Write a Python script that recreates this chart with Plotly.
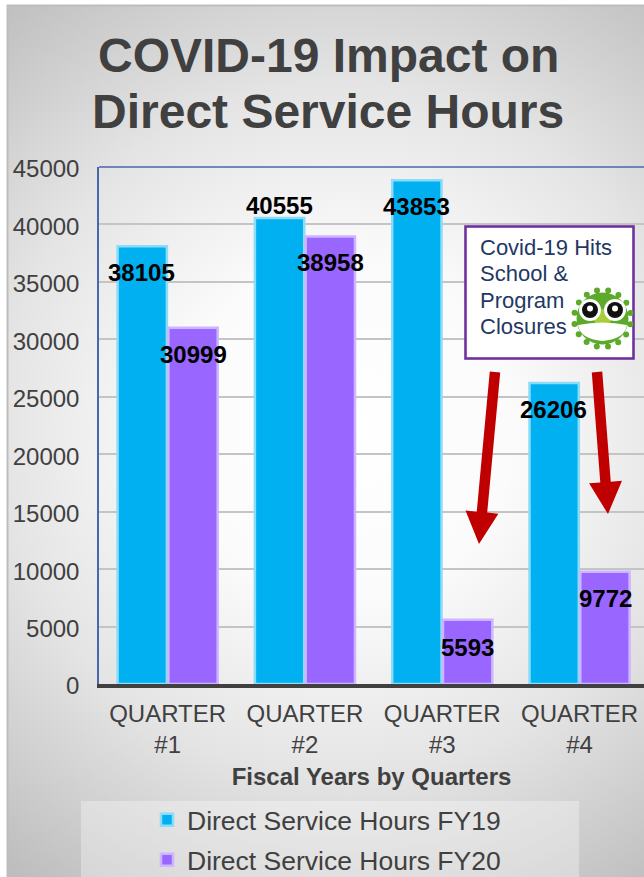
import base64, math
import plotly.graph_objects as go

categories = ["QUARTER<br>#1", "QUARTER<br>#2", "QUARTER<br>#3", "QUARTER<br>#4"]
fy19 = [38105, 40555, 43853, 26206]
fy20 = [30999, 38958, 5593, 9772]
fy19_label_y = [35800, 41690, 41520, 23850]
fy20_label_y = [28640, 36730, 3220, 7400]
y_ticks = [0, 5000, 10000, 15000, 20000, 25000, 30000, 35000, 40000, 45000]
callout_lines = ["Covid-19 Hits", "School &", "Program", "Closures"]

W, H = 644, 877
L, T, B = 99, 167, 684
PW, PH = W - L, B - T
STEP = 137.3
def px(x): return (x - L) / PW
def py(y): return (B - y) / PH
def uri(svg): return "data:image/svg+xml;base64," + base64.b64encode(svg.encode()).decode()

bg_svg = f'''<svg xmlns="http://www.w3.org/2000/svg" width="{W}" height="{H}" viewBox="0 0 {W} {H}">
<defs><radialGradient id="g" gradientUnits="userSpaceOnUse" cx="345" cy="430" r="560">
<stop offset="0" stop-color="#ffffff"/><stop offset="0.3" stop-color="#fbfbfb"/>
<stop offset="0.62" stop-color="#e4e4e4"/><stop offset="1" stop-color="#bcbcbc"/></radialGradient></defs>
<rect width="{W}" height="{H}" fill="#ffffff"/>
<rect x="7" y="5" width="{W}" height="{H}" fill="url(#g)"/>
<path d="M7.5 {H} V5.5 H{W}" fill="none" stroke="#bdbdbd" stroke-width="2"/>
<rect x="81" y="801" width="498" height="76" fill="#ffffff" fill-opacity="0.32"/>
</svg>'''

spikes = ""
for k in range(16):
    a = 2 * math.pi * k / 16 + 0.2
    x1, y1 = 31.5 + 22 * math.cos(a), 31.5 + 22 * math.sin(a)
    x2, y2 = 31.5 + 28.5 * math.cos(a), 31.5 + 28.5 * math.sin(a)
    spikes += (f'<line x1="{x1:.1f}" y1="{y1:.1f}" x2="{x2:.1f}" y2="{y2:.1f}" stroke="#5DA92A" stroke-width="2.4"/>'
               f'<circle cx="{x2:.1f}" cy="{y2:.1f}" r="3" fill="#5DA92A"/>')
box_svg = f'''<svg xmlns="http://www.w3.org/2000/svg" width="171" height="135" viewBox="0 0 171 135">
<rect x="1.5" y="1.5" width="168" height="132" fill="#ffffff" stroke="#7030A0" stroke-width="2.6"/>
<g transform="translate(107,62)">{spikes}
<circle cx="31.5" cy="31.5" r="26" fill="#5DA92A"/>
<circle cx="31.5" cy="31" r="9" fill="#A6CE39"/>
<circle cx="19" cy="23" r="11" fill="#ffffff"/><circle cx="44" cy="23" r="11" fill="#ffffff"/>
<circle cx="19" cy="23" r="8" fill="#111111"/><circle cx="44" cy="23" r="8" fill="#111111"/>
<circle cx="19" cy="21.5" r="3" fill="#ffffff"/><circle cx="44" cy="21.5" r="3" fill="#ffffff"/>
<path d="M7 38 Q31.5 33 56 38 Q54 52 31.5 54 Q9 52 7 38Z" fill="#ffffff"/>
</g></svg>'''

fig = go.Figure()
fig.add_bar(name="Direct Service Hours FY19", x=categories, y=fy19, legendgroup="a",
            marker=dict(color="#00B0F0", line=dict(color="#8ADCF8", width=2.5)))
fig.add_bar(name="Direct Service Hours FY20", x=categories, y=fy20, legendgroup="b",
            marker=dict(color="#9966FF", line=dict(color="#CDB5FF", width=2.5)))

ann = []
OFF = 0.187
for i in range(4):
    for val, ly, d in ((fy19[i], fy19_label_y[i], -OFF), (fy20[i], fy20_label_y[i], OFF)):
        ann.append(dict(x=i + d, y=ly, xref="x", yref="y", text=f"<b>{val}</b>", showarrow=False,
                        xanchor="center", yanchor="middle", font=dict(size=24, color="#000000")))
for text, yp in (("COVID-19 Impact on", 55), ("Direct Service Hours", 111)):
    ann.append(dict(x=px(328), y=py(yp), xref="paper", yref="paper", text=f"<b>{text}</b>", showarrow=False,
                    xanchor="center", yanchor="middle", font=dict(size=48, color="#404040")))
for text, yp in zip(callout_lines, (247, 273, 300, 326)):
    ann.append(dict(x=px(478), y=py(yp), xref="paper", yref="paper", showarrow=False, align="left", text=text,
                    xanchor="left", yanchor="middle", font=dict(size=22, color="#1F3864")))

def arrow(x0, y0, x1, y1, shaft, head, headlen):
    dx, dy = x1 - x0, y1 - y0
    n = math.hypot(dx, dy); ux, uy = dx / n, dy / n; nx, ny = -uy, ux
    bx, by = x1 - ux * headlen, y1 - uy * headlen
    pts = [(x0 + nx * shaft / 2, y0 + ny * shaft / 2), (bx + nx * shaft / 2, by + ny * shaft / 2),
           (bx + nx * head / 2, by + ny * head / 2), (x1, y1),
           (bx - nx * head / 2, by - ny * head / 2), (bx - nx * shaft / 2, by - ny * shaft / 2),
           (x0 - nx * shaft / 2, y0 - ny * shaft / 2)]
    return "M" + " L".join(f"{px(a):.4f},{py(b):.4f}" for a, b in pts) + " Z"

shapes = [
    dict(type="line", xref="paper", yref="paper", x0=0, x1=1, y0=1, y1=1, line=dict(color="#4A66AC", width=1.5)),
    dict(type="path", xref="paper", yref="paper", path=arrow(495, 372, 479, 544, 10.5, 33, 32), fillcolor="#C00000", line=dict(width=0)),
    dict(type="path", xref="paper", yref="paper", path=arrow(597, 372, 608, 514, 10.5, 33, 32), fillcolor="#C00000", line=dict(width=0)),
]

images = [
    dict(source=uri(bg_svg), xref="paper", yref="paper", x=px(0), y=py(0), sizex=W / PW, sizey=H / PH,
         sizing="stretch", xanchor="left", yanchor="top", layer="below"),
    dict(source=uri(box_svg), xref="paper", yref="paper", x=px(464), y=py(225), sizex=171 / PW, sizey=135 / PH,
         sizing="stretch", xanchor="left", yanchor="top", layer="above"),
]

fig.update_layout(
    width=W, height=H, autosize=False,
    margin=dict(l=L, r=0, t=T, b=H - B, pad=0, autoexpand=False),
    paper_bgcolor="#ffffff", plot_bgcolor="rgba(0,0,0,0)",
    font=dict(family="Liberation Sans, Arial, sans-serif", color="#404040"),
    barmode="group", bargap=0.26, bargroupgap=0.03,
    annotations=ann, shapes=shapes, images=images,
    legend=dict(x=px(147), y=py(796), xanchor="left", yanchor="top", orientation="v",
                bgcolor="rgba(0,0,0,0)", font=dict(size=26.5, color="#404040"),
                traceorder="grouped", tracegroupgap=2.5, itemclick=False),
    xaxis=dict(range=[-0.5, -0.5 + PW / STEP], type="category", showgrid=False, showline=True,
               linecolor="#404040", linewidth=3.5, ticks="", tickfont=dict(size=24, color="#404040"),
               ticklabelstandoff=5, automargin=False,
               title=dict(text="<b>Fiscal Years by Quarters</b>", font=dict(size=24, color="#404040"), standoff=12)),
    yaxis=dict(range=[0, 45000], tickvals=y_ticks, tickformat="d", showgrid=True, gridcolor="#C4C4C4", gridwidth=1.5,
               showline=True, linecolor="#4A66AC", linewidth=1.5, ticks="", zeroline=False, ticklabelshift=2,
               tickfont=dict(size=24, color="#404040"), ticklabelstandoff=13, automargin=False),
)
fig.write_html("out.html", post_script="document.body.style.margin='0';document.documentElement.style.overflow='hidden';",
               config=dict(displayModeBar=False))
